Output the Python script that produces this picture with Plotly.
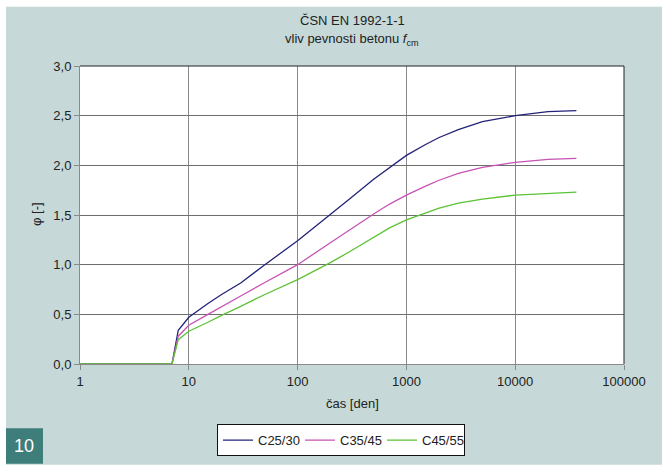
import plotly.graph_objects as go

# ---- data ----
t_days = [1, 7, 8, 10, 15, 20, 30, 50, 100, 200, 300, 500, 700, 1000, 1500, 2000, 3000, 5000, 10000, 20000, 36500]
phi_c25 = [0, 0, 0.34, 0.47, 0.61, 0.70, 0.815, 1.00, 1.24, 1.50, 1.66, 1.86, 1.98, 2.10, 2.21, 2.28, 2.36, 2.44, 2.50, 2.54, 2.55]
phi_c35 = [0, 0, 0.28, 0.39, 0.50, 0.58, 0.685, 0.82, 1.00, 1.22, 1.35, 1.51, 1.61, 1.70, 1.79, 1.85, 1.92, 1.98, 2.03, 2.06, 2.07]
phi_c45 = [0, 0, 0.245, 0.33, 0.42, 0.49, 0.58, 0.70, 0.85, 1.02, 1.13, 1.27, 1.37, 1.45, 1.52, 1.57, 1.62, 1.66, 1.70, 1.72, 1.73]
series_names = ["C25/30", "C35/45", "C45/55"]
series_colors = ["#22227a", "#c653b4", "#5cc235"]
x_tickvals = [1, 10, 100, 1000, 10000, 100000]
x_ticktext = ["1", "10", "100", "1000", "10000", "100000"]

W, H = 662, 468
L, R, T, B = 80, 624, 66, 368


def px(x):
    return (x - L) / (R - L)


def py(y):
    return (B - y) / (B - T)


fig = go.Figure()
for name, vals, col in zip(series_names, [phi_c25, phi_c35, phi_c45], series_colors):
    fig.add_trace(go.Scatter(x=t_days, y=vals, mode="lines", name=name, cliponaxis=False,
                             line=dict(color=col, width=1.3)))

FAM = "Liberation Sans, Arial, sans-serif"
font = dict(family=FAM, size=13, color="#222222")

fig.update_layout(
    width=W, height=H,
    margin=dict(l=L, r=W - R, t=T, b=H - B, pad=0),
    paper_bgcolor="white",
    plot_bgcolor="white",
    font=font,
    separators=", ",
    showlegend=True,
    legend=dict(orientation="h", x=px(217), y=py(429), xanchor="left", yanchor="top",
                bgcolor="white", bordercolor="#111111", borderwidth=1,
                font=font, entrywidth=37, entrywidthmode="pixels", tracegroupgap=0),
    xaxis=dict(type="log", range=[0, 5], tickvals=x_tickvals, ticktext=x_ticktext,
               showgrid=True, gridcolor="#8a8a8a", gridwidth=1,
               showline=True, linecolor="#8a8a8a", linewidth=1,
               ticks="outside", ticklen=5, tickcolor="#8a8a8a",
               zeroline=False, tickfont=font, layer="below traces"),
    yaxis=dict(range=[0, 3], dtick=0.5, tickformat=".1f",
               showgrid=True, gridcolor="#6e6e6e", gridwidth=1,
               showline=True, linecolor="#8a8a8a", linewidth=1,
               ticks="outside", ticklen=5, tickcolor="#8a8a8a",
               zeroline=False, tickfont=font, layer="below traces"),
    shapes=[
        # page background
        dict(type="rect", xref="paper", yref="paper", layer="below",
             x0=px(6), x1=px(W + 2), y0=py(6), y1=py(H + 2),
             fillcolor="#c6d9d8", line=dict(width=0)),
        # plot area white
        dict(type="rect", xref="paper", yref="paper", layer="below",
             x0=0, x1=1, y0=0, y1=1, fillcolor="white", line=dict(width=0)),
        # top/right border
        dict(type="line", xref="paper", yref="paper", x0=0, x1=1, y0=1, y1=1,
             line=dict(color="#222222", width=1)),
        dict(type="line", xref="paper", yref="paper", x0=1, x1=1, y0=0, y1=1,
             line=dict(color="#222222", width=1)),
        # figure number box
        dict(type="rect", xref="paper", yref="paper",
             x0=px(6), x1=px(43), y0=py(433), y1=py(469),
             fillcolor="#3d7d7a", line=dict(width=0)),
    ],
    annotations=[
        dict(text="ČSN EN 1992-1-1", xref="paper", yref="paper", x=px(352), y=py(20),
             showarrow=False, font=font, xanchor="center", yanchor="middle"),
        dict(text="vliv pevnosti betonu <i>f</i><sub>cm</sub>", xref="paper", yref="paper",
             x=px(352), y=py(39), showarrow=False, font=font, xanchor="center", yanchor="middle"),
        dict(text="φ [-]", xref="paper", yref="paper", x=px(36), y=py(216), textangle=-90,
             showarrow=False, font=font, xanchor="center", yanchor="middle"),
        dict(text="čas [den]", xref="paper", yref="paper", x=px(352), y=py(408),
             showarrow=False, font=font, xanchor="center", yanchor="middle"),
        dict(text="10", xref="paper", yref="paper", x=px(24), y=py(451),
             showarrow=False, font=dict(family=FAM, size=18, color="white"),
             xanchor="center", yanchor="middle"),
    ],
)

fig.write_html("out.html")
